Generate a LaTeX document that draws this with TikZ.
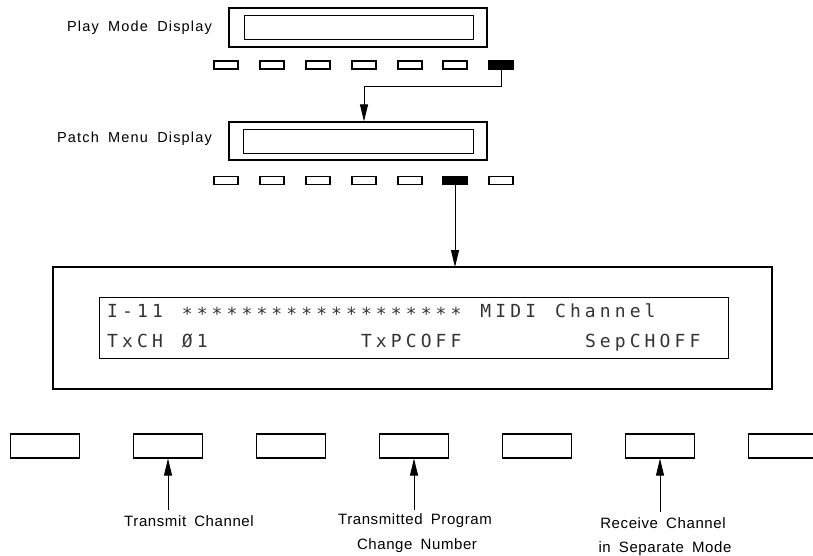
\documentclass[tikz,border=0pt]{standalone}
\usepackage{fontspec}
\usetikzlibrary{arrows.meta}
\newfontfamily\lblfont{Liberation Sans}[LetterSpace=4,WordSpace=1.7]
\newfontfamily\toplblfont{Liberation Sans}[LetterSpace=8,WordSpace=1.8]
\newfontfamily\lcdfont{DejaVu Sans Mono}
\newlength\lcdcw \setlength\lcdcw{14.93pt}
\def\lcdloop#1{\ifx\relax#1\else\lcdchar{#1}\expandafter\lcdloop\fi}
\def\lcdchar#1{\ifx|#1\hspace*{\lcdcw}\else\ifx*#1\makebox[\lcdcw][c]{\raisebox{-3.5pt}{*}}\else\makebox[\lcdcw][c]{#1}\fi\fi}
\newcommand\lcdline[1]{\lcdloop#1\relax}
\begin{document}
\begin{tikzpicture}[x=1pt,y=-1pt,
  box/.style={draw,line width=1.2pt,inner sep=0pt},
  smallbtn/.style={draw,line width=1.1pt,inner sep=0pt,minimum width=24pt,minimum height=8pt},
  onbtn/.style={smallbtn,fill=black},
  bigbtn/.style={draw,line width=1.1pt,inner sep=0pt,minimum width=69pt,minimum height=24pt},
  arr/.style={line width=0.9pt,-{Triangle[length=17pt,width=8pt]}},
  toplbl/.style={font=\toplblfont\fontsize{14.5}{16}\selectfont,inner sep=0pt},
  lbl/.style={font=\lblfont\fontsize{15}{17}\selectfont,inner sep=0pt,align=center},
  lcd/.style={font=\lcdfont\fontsize{18}{18}\selectfont,text=black!80,inner sep=0pt,anchor=base west}]
\path[use as bounding box] (0,0) rectangle (813,555);
\clip (0,0) rectangle (813,555);

% Play mode display
\node[toplbl,anchor=east] (playlbl) at (212,28) {Play Mode Display};
\node[box,minimum width=258pt,minimum height=39pt] (playout) at (358,27.5) {};
\node[box,minimum width=229pt,minimum height=24pt,line width=1pt] (playin) at (358.5,27) {};
\foreach \i/\x in {1/226,2/272,3/318,4/364,5/410,6/455}
  \node[smallbtn] (p\i) at (\x,65) {};
\node[onbtn] (p7) at (501,65) {};

% Patch menu display
\node[toplbl,anchor=east] (patchlbl) at (212,139) {Patch Menu Display};
\node[box,minimum width=258pt,minimum height=38pt] (patchout) at (358,141) {};
\node[box,minimum width=230pt,minimum height=24pt,line width=1pt] (patchin) at (358,141) {};
\foreach \i/\x in {1/226,2/272,3/318,4/364,5/410,7/501}
  \node[smallbtn] (q\i) at (\x,180.5) {};
\node[onbtn] (q6) at (455,180.5) {};

\draw[arr] (p7.south) -- ++(0,17) -| (patchout.north -| p4);
\draw[arr] (q6.south) -- (q6.south |- 0,267);

% Big display
\node[box,minimum width=719pt,minimum height=122pt] (big) at (412.5,328) {};
\node[box,minimum width=629pt,minimum height=61pt,line width=1pt] (lcd) at (413.5,327.5) {};
\node[lcd] (line1) at (105,317) {\lcdline{I-11|*******************|MIDI|Channel}};
\node[lcd] (line2) at (105,347) {\lcdline{TxCH|Ø1||||||||||TxPCOFF||||||||SepCHOFF}};

% Bottom buttons
\foreach \i/\x in {1/45,2/168,3/291,4/414,5/537,6/660,7/783}
  \node[bigbtn] (b\i) at (\x,446) {};

% Labels
\node[lbl] (l1) at (189,521) {Transmit Channel};
\node[lbl] (l2) at (415,521) {Transmitted Program};
\node[lbl] (l2b) at (417,546) {Change Number};
\node[lbl] (l3) at (663,523) {Receive Channel};
\node[lbl] (l3b) at (665,549) {in Separate Mode};

\draw[arr] (b2.south |- 0,510) -- (b2.south);
\draw[arr] (b4.south |- 0,510) -- (b4.south);
\draw[arr] (b6.south |- 0,512) -- (b6.south);
\end{tikzpicture}
\end{document}
